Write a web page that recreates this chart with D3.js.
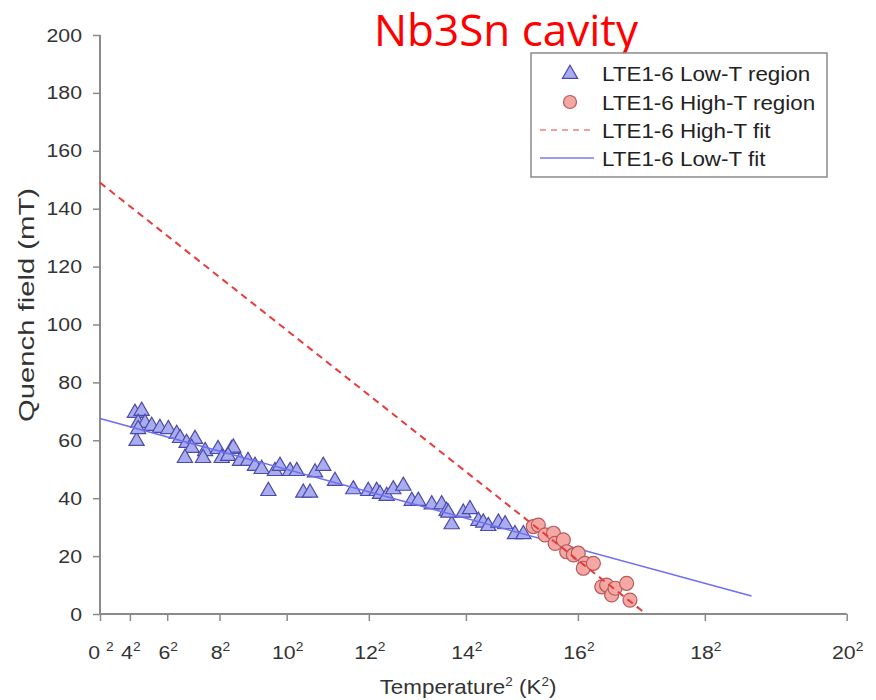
<!DOCTYPE html>
<html>
<head>
  <meta charset="utf-8">
  <script src="https://cdn.jsdelivr.net/npm/d3@7"></script>
  <style>
    body { margin: 0; background: #fff; }
    text { font-family: "Liberation Sans", Arial, sans-serif; }
  </style>
</head>
<body>
<script>
  // ---- data (x is T^2 in K^2, y in mT) ----
  var lowT_T2 = [18.7, 22.3, 20.4, 24.1, 19.6, 20.4, 27.7, 32.1, 36.6, 41.1, 42.9, 46.4, 50.9, 49.1,
                 45.5, 56.3, 55.2, 63.2, 65.2, 70.5, 71.4, 68.6, 75, 79.3, 83, 86.6, 90.2, 93.7, 96.4,
                 101.8, 105.4, 108.9, 112.5, 115.2, 119.6, 125.9, 135.7, 143.7, 148.2, 150, 153.6,
                 157.1, 162.5, 167, 170.5, 177.7, 183, 185.7, 188.4, 186.6, 194.6, 198.2, 202.7,
                 205.3, 208, 213.4, 217, 222.3, 226.8];
  var lowT_B = [69.8, 70.5, 66.3, 66.3, 60.1, 64.2, 65.3, 64.6, 64.2, 62.5, 61.1, 59.4, 60.8, 57.7,
                54.2, 56.6, 54.2, 57.3, 54.2, 57.3, 57.8, 54.9, 53.2, 53.2, 51.5, 50.4, 42.8, 49.7, 51.5,
                49.7, 49.7, 42.2, 42.2, 49.2, 51.5, 46.3, 43.4, 42.8, 42.8, 41.8, 41.1,
                43.4, 44.6, 39.4, 39.4, 38.2, 38.2, 35.9, 31.3, 35.3, 35.3, 36.5, 32.5,
                31.9, 30.7, 31.9, 31.3, 27.9, 27.9];
  var highT_T2 = [232.1, 234.8, 238.4, 242.9, 243.8, 248.2, 250, 253.6, 256.2, 259.8, 258.9, 264.3,
                  268.8, 271.4, 274.1, 275.9, 282.1, 283.9];
  var highT_B = [30.2, 30.7, 27.3, 27.9, 24.4, 25.6, 21.5, 20.4, 21.0, 17.5, 15.8, 17.5,
                 9.4, 10.0, 6.6, 8.9, 10.6, 4.8];
  // fit lines: end points [T^2, B]
  var lowFit = [[0, 67.5], [349, 6.2]];
  var highFit = [[0, 149], [292.5, 0]];

  var xTicks = [0, 4, 6, 8, 10, 12, 14, 16, 18, 20];   // temperatures, placed at T^2
  var yTicks = [0, 20, 40, 60, 80, 100, 120, 140, 160, 180, 200];
  var legendLabels = ['LTE1-6 Low-T region', 'LTE1-6 High-T region', 'LTE1-6 High-T fit', 'LTE1-6 Low-T fit'];

  var W = 876, H = 700;
  var mL = 100, mR = 846.7, mT = 35, mB = 614;

  var svg = d3.select('body').append('svg')
      .attr('width', W).attr('height', H);

  var x = d3.scaleLinear().domain([0, 400]).range([mL, mR]);
  var y = d3.scaleLinear().domain([0, 200]).range([mB, mT]);

  var axisColor = '#8a8a8a';
  var labelColor = '#333';

  // text that is a bit wider than the font, as in the picture
  function wideText(parent, px, py, sx, size, anchor) {
    return parent.append('g')
        .attr('transform', 'translate(' + px + ',' + py + ') scale(' + sx + ',1)')
      .append('text')
        .attr('text-anchor', anchor)
        .attr('fill', labelColor)
        .style('font-size', size + 'px');
  }

  // Y axis
  var yAxis = svg.append('g')
      .attr('transform', 'translate(' + mL + ',0)')
      .call(d3.axisLeft(y).tickValues(yTicks).tickSize(7).tickFormat(''));
  yAxis.select('.domain').attr('stroke', axisColor).attr('stroke-width', 2).attr('d', 'M0,' + mT + 'V' + mB);
  yAxis.selectAll('.tick line').attr('stroke', axisColor).attr('stroke-width', 1.5);
  yTicks.forEach(function(v) {
    wideText(svg, 82, y(v) + 6.5, 1.15, 18.5, 'end').text(v);
  });

  // X axis (positions in T^2, labels as T with superscript 2)
  var xAxis = svg.append('g')
      .attr('transform', 'translate(0,' + mB + ')')
      .call(d3.axisBottom(x).tickValues(xTicks.map(function(t) { return t * t; })).tickSize(7).tickFormat(''));
  xAxis.select('.domain').attr('stroke', axisColor).attr('stroke-width', 2).attr('d', 'M' + mL + ',0H' + mR);
  xAxis.selectAll('.tick line').attr('stroke', axisColor).attr('stroke-width', 1.5);

  xTicks.forEach(function(t) {
    var tx = wideText(svg, x(t * t) + 1, 659, 1.15, 18.5, 'middle');
    tx.append('tspan').text(t === 0 ? '0 ' : t);
    tx.append('tspan').attr('dy', -8).style('font-size', '12px').text('2');
  });

  // axis titles
  var xt = wideText(svg, 468, 694, 1.12, 20, 'middle');
  xt.append('tspan').text('Temperature');
  xt.append('tspan').attr('dy', -8).style('font-size', '12px').text('2');
  xt.append('tspan').attr('dy', 8).text(' (K');
  xt.append('tspan').attr('dy', -8).style('font-size', '12px').text('2');
  xt.append('tspan').attr('dy', 8).text(')');

  svg.append('g')
      .attr('transform', 'translate(34,305) rotate(-90) scale(1.33,1)')
    .append('text')
      .attr('text-anchor', 'middle')
      .attr('fill', labelColor)
      .style('font-size', '22px')
      .text('Quench field (mT)');

  // title
  svg.append('text')
      .attr('x', 506).attr('y', 46)
      .attr('text-anchor', 'middle')
      .attr('fill', '#ff0000')
      .style('font-family', '"Open Sans", "Noto Sans", sans-serif')
      .style('font-size', '44px')
      .text('Nb3Sn cavity');

  var line = d3.line().x(function(d) { return x(d[0]); }).y(function(d) { return y(d[1]); });

  var triFill = '#aaacf0', triStroke = '#4a4aa8';
  var cirFill = '#f5a8a3', cirStroke = '#b45a5a';
  var lowLine = '#6e6ef5', highLine = '#e83a3a';
  var tri = d3.symbol().type(d3.symbolTriangle).size(100);

  // low-T points
  svg.append('g').selectAll('path')
      .data(lowT_T2.map(function(t, i) { return [t, lowT_B[i]]; }))
      .enter().append('path')
      .attr('d', tri)
      .attr('transform', function(d) { return 'translate(' + x(d[0]) + ',' + (y(d[1]) + 1) + ')'; })
      .attr('fill', triFill).attr('stroke', triStroke).attr('stroke-width', 1.2);

  // low-T fit
  svg.append('path').datum(lowFit).attr('d', line)
      .attr('fill', 'none').attr('stroke', lowLine).attr('stroke-width', 1.6);

  // high-T points
  svg.append('g').selectAll('circle')
      .data(highT_T2.map(function(t, i) { return [t, highT_B[i]]; }))
      .enter().append('circle')
      .attr('cx', function(d) { return x(d[0]); })
      .attr('cy', function(d) { return y(d[1]); })
      .attr('r', 7)
      .attr('fill', cirFill).attr('stroke', cirStroke).attr('stroke-width', 1.2);

  // high-T fit
  svg.append('path').datum(highFit).attr('d', line)
      .attr('fill', 'none').attr('stroke', highLine).attr('stroke-width', 2)
      .attr('stroke-dasharray', '7,5');

  // legend
  var lg = svg.append('g');
  lg.append('rect')
      .attr('x', 531).attr('y', 53).attr('width', 296).attr('height', 124)
      .attr('fill', '#fff').attr('stroke', '#8a8a8a').attr('stroke-width', 1.5);
  var rows = [73, 102, 130, 158];
  legendLabels.forEach(function(lbl, i) {
    wideText(lg, 602, rows[i] + 7.5, 1.12, 20, 'start')
        .attr('fill', '#222')
        .text(lbl);
  });
  lg.append('path').attr('d', tri)
      .attr('transform', 'translate(570,' + (rows[0] + 1) + ')')
      .attr('fill', triFill).attr('stroke', triStroke).attr('stroke-width', 1.2);
  lg.append('circle').attr('cx', 570).attr('cy', rows[1]).attr('r', 6.5)
      .attr('fill', cirFill).attr('stroke', cirStroke).attr('stroke-width', 1.2);
  lg.append('line').attr('x1', 540).attr('x2', 592).attr('y1', rows[2]).attr('y2', rows[2])
      .attr('stroke', '#f08080').attr('stroke-width', 1.5).attr('stroke-dasharray', '6,5');
  lg.append('line').attr('x1', 540).attr('x2', 594).attr('y1', rows[3]).attr('y2', rows[3])
      .attr('stroke', '#7a7af0').attr('stroke-width', 1.5);
</script>
</body>
</html>
